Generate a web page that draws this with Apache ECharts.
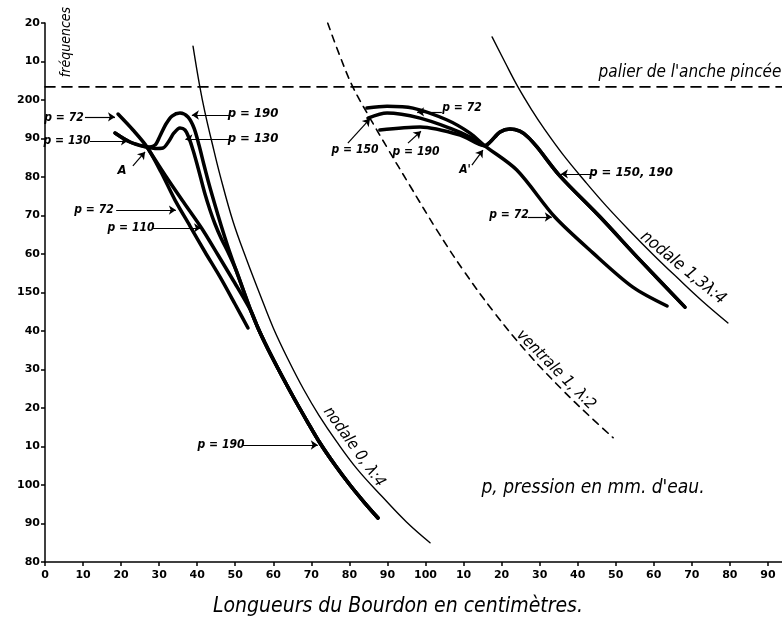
<!DOCTYPE html>
<html><head><meta charset="utf-8">
<script src="https://cdn.jsdelivr.net/npm/echarts@6/dist/echarts.min.js"></script>
<style>html,body{margin:0;padding:0;background:#fff}#c{width:782px;height:625px}</style>
</head><body><div id="c"></div>
<script>
// Tick labels
const xTickLabels = ['0','10','20','30','40','50','60','70','80','90','100','10','20','30','40','50','60','70','80','90'];
const yTickLabels = ['80','90','100','10','20','30','40','150','60','70','80','90','200','10','20'];

// Reference curves [length cm, frequency]
const nodale0 = [[38.9,214],[40.7,203.4],[42,197],[44,188.5],[46,180.5],[49.4,168.5],[53,158.5],[56.5,149.5],[60,140.8],[64,132.4],[68,124.8],[72,118.1],[76.7,111.2],[82,104.2],[88.6,97],[95,90.4],[101.2,85]];
const ventrale1 = [[74.3,220],[77.6,211.2],[80.9,203.4],[85,196],[90,187.5],[96,177.6],[103,166.2],[110,155.7],[118,144.9],[127,134.1],[136,124.7],[143,118.0],[149.3,112.3]];
const nodale13 = [[117.5,216.4],[121,209.6],[124.3,203.4],[128,197.3],[131,192.8],[136,186],[141.9,178.9],[147.5,172.5],[153.7,166],[160,159.7],[166,154],[172.5,148],[179.5,142.1]];
const palier = [[0,203.4],[194,203.4]];

// Left group
const p72L = [[19.19,196.36],[23.13,192.21],[26.81,187.79],[30.49,181.30],[34.17,174.0],[38.11,167.27],[42.05,160.52],[45.99,154.03],[49.93,147.01],[53.35,140.78]];
const p110LHead = [[26.81,187.79],[31.54,180.52],[36.01,174.03],[41.26,166.57],[45.47,159.74],[49.41,153.25]];
const p130LHead = [[18.40,191.43],[22.34,189.09],[26.81,187.79],[28.91,187.40],[31.01,187.53],[32.59,189.35],[33.90,191.43],[35.48,192.73],[36.79,192.21],[37.84,190.13],[38.90,187.01],[39.95,183.38],[41.0,179.48],[42.05,175.58],[43.36,171.43],[44.68,167.79],[46.25,164.16],[48.09,160.52]];
const p190LHead = [[18.40,191.43],[22.34,189.09],[26.81,187.79],[28.91,188.31],[30.22,190.65],[31.80,193.77],[33.38,195.84],[35.48,196.62],[37.58,195.58],[39.16,192.73],[40.47,188.31],[41.79,183.12],[43.10,178.18],[44.68,172.73]];
const bundleL = [[46.25,167.53],[48.09,161.82],[50.20,155.84],[52.30,150.13],[54.14,145.19],[55.98,140.78],[57.82,136.88],[59.66,133.25],[62.55,127.79],[65.70,122.08],[68.86,116.62],[72.27,110.91],[76.22,105.19],[80.16,100.0],[83.84,95.58],[87.52,91.43]];

// Right group
const p72R = [[84.6,197.9],[89.9,198.4],[96.7,197.9],[105.7,194.8],[111.7,191.4],[115.6,188.1],[124.0,181.8],[134.0,169.6],[144.0,160.3],[154.5,151.4],[163.5,146.5]];
const p150RHead = [[84.9,195.3],[89.9,196.6],[98.6,195.3],[106.4,192.7],[111.7,190.4],[115.6,188.1]];
const p190RHead = [[88.0,192.2],[98.6,193.0],[109.1,190.9],[115.6,188.1]];
const bumpR = [[115.6,188.1],[117.0,189.1],[119.6,191.7],[122.2,192.5],[124.8,191.9],[126.9,190.4],[129.3,187.8],[135.3,180.3],[145.9,169.6],[156.4,158.4],[168.2,146.2]];

// Annotation arrows: [from, to] in data coords
const arrows = [
  [[10.5,195.6],[18.4,195.6]],
  [[11.8,189.4],[21.8,189.4]],
  [[23.1,182.9],[26.3,186.5]],
  [[18.7,171.4],[34.4,171.4]],
  [[28.4,166.8],[41.0,166.8]],
  [[48.6,196.1],[38.6,196.1]],
  [[48.6,189.9],[36.9,189.9]],
  [[51.8,110.4],[71.7,110.4]],
  [[104.3,196.9],[97.8,196.9]],
  [[79.6,188.8],[85.4,195.1]],
  [[95.4,188.8],[98.8,191.9]],
  [[112.2,183.1],[115.1,187.0]],
  [[144.5,180.8],[135.6,180.8]],
  [[126.9,169.6],[133.2,169.6]]
];

const LF = "'Liberation Sans Narrow','DejaVu Sans Condensed','Liberation Sans',sans-serif";
function ln(data, w, dash, sm) {
  return {type:'line', data:data, symbol:'none', showSymbol:false, smooth: sm===undefined?0.3:sm, silent:true,
    lineStyle:{color:'#000', width:w, type: dash||'solid', cap:'round', join:'round'}};
}
function lbl(text, x, y, size, opts) {
  opts = opts || {};
  return {type:'text', x:x, y:y, rotation: opts.rot||0, silent:true, z:100,
    style:{text:text, fill:'#000', align:'center', verticalAlign:'middle',
      font: (opts.weight||'bold') + ' italic ' + size + 'px ' + (opts.family||LF)}};
}

const chart = echarts.init(document.getElementById('c'), null, {renderer:'canvas'});
const option = {
  animation:false,
  backgroundColor:'#fff',
  grid:{left:45, right:0, top:23, bottom:63},
  xAxis:{type:'value', min:0, max:193.7, interval:10,
    axisLine:{lineStyle:{color:'#000', width:1.5}},
    axisTick:{show:true, length:4, lineStyle:{color:'#000', width:1.5}},
    splitLine:{show:false},
    axisLabel:{color:'#000', fontWeight:'bold', fontSize:11, fontFamily:'DejaVu Sans', margin:8, showMaxLabel:false,
      formatter:function(v){ if (Math.abs(v/10-Math.round(v/10))>1e-6) return ''; const l = xTickLabels[Math.round(v/10)]; return l===undefined?'':l; }}},
  yAxis:{type:'value', min:80, max:220, interval:10,
    axisLine:{show:true, lineStyle:{color:'#000', width:1.5}},
    axisTick:{show:true, length:4, lineStyle:{color:'#000', width:1.5}},
    splitLine:{show:false},
    axisLabel:{color:'#000', fontWeight:'bold', fontSize:11, fontFamily:'DejaVu Sans', margin:5,
      formatter:function(v){ const l = yTickLabels[Math.round((v-80)/10)]; return l===undefined?'':l; }}},
  series:[
    ln(palier, 1.6, [10,7], false),
    ln(nodale0, 1.4, null, 0.4),
    ln(ventrale1, 1.6, [7,6], 0.4),
    ln(nodale13, 1.4, null, 0.4),
    ln(p72L, 3.5),
    ln(p110LHead.concat(bundleL.slice(4)), 3.5),
    ln(p130LHead.concat(bundleL.slice(2)), 3.5),
    ln(p190LHead.concat(bundleL), 3.5),
    ln(p72R, 3.5),
    ln(p150RHead.concat(bumpR), 3.5),
    ln(p190RHead.concat(bumpR), 3.5),
    {type:'line', data:[], silent:true,
      markLine:{silent:true, animation:false, symbol:['none','arrow'], symbolSize:7, label:{show:false},
        lineStyle:{color:'#000', width:1.2, type:'solid'},
        data: arrows.map(function(a){ return [{coord:a[0]},{coord:a[1]}]; })}}
  ],
  graphic:[
    lbl('fréquences', 66, 42, 14, {rot:Math.PI/2, weight:'normal'}),
    lbl("palier de l'anche pincée", 690, 73, 17, {weight:'normal'}),
    lbl('p = 72', 64, 118, 12),
    lbl('p = 130', 67, 141, 12),
    lbl('A', 122, 171, 13),
    lbl('p = 72', 94, 210, 12),
    lbl('p = 110', 131, 228, 12),
    lbl('p = 190', 253, 114, 13),
    lbl('p = 130', 253, 139, 13),
    lbl('p = 190', 221, 445, 12),
    lbl('nodale 0, λ:4', 354, 447, 16, {rot:-0.95, weight:'normal'}),
    lbl('p = 72', 462, 108, 12),
    lbl('p = 150', 355, 150, 12),
    lbl('p = 190', 416, 152, 12),
    lbl("A'", 465, 170, 12),
    lbl('p = 150, 190', 631, 173, 13),
    lbl('p = 72', 509, 215, 12),
    lbl('nodale 1,3λ:4', 683, 268, 17, {rot:-0.69, weight:'normal'}),
    lbl('ventrale 1, λ:2', 556, 370, 16, {rot:-0.79, weight:'normal'}),
    lbl("p, pression en mm. d'eau.", 593, 488, 19, {weight:'normal'}),
    lbl('Longueurs du Bourdon en centimètres.', 398, 607, 21, {weight:'normal'})
  ]
};
chart.setOption(option);
</script></body></html>
